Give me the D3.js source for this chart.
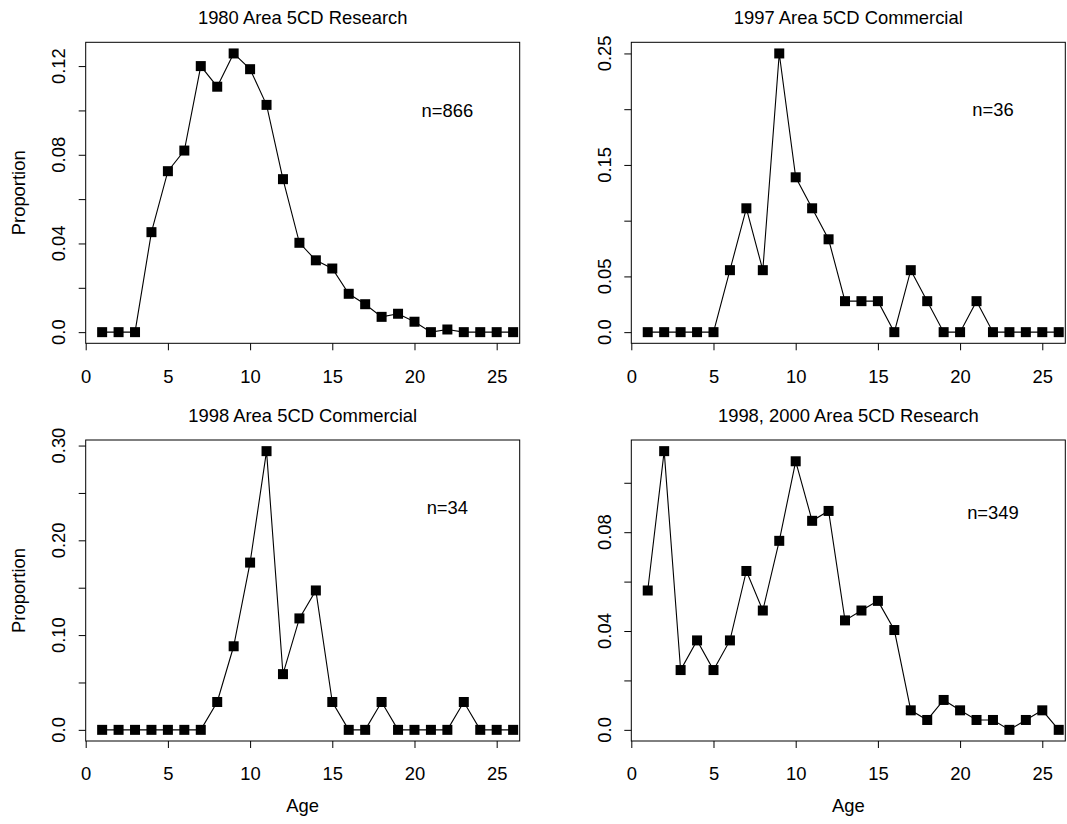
<!DOCTYPE html>
<html lang="en">
<head>
  <meta charset="UTF-8">
  <title>Age composition, Area 5CD</title>
  <script src="https://d3js.org/d3.v7.min.js"></script>
  <style>
    * { margin: 0; padding: 0; box-sizing: border-box; }
    body { background: #fff; }
    svg text { font-family: "Liberation Sans", Arial, sans-serif; font-size: 18.4px; fill: #000; }
  </style>
</head>
<body>
  <div id="chart"></div>

  <script>
    // ages 1..26 on every panel
    const ages = [1, 2, 3, 4, 5, 6, 7, 8, 9, 10, 11, 12, 13, 14, 15, 16, 17, 18, 19, 20, 21, 22, 23, 24, 25, 26];

    const titles = ["1980 Area 5CD Research", "1997 Area 5CD Commercial",
                    "1998 Area 5CD Commercial", "1998, 2000 Area 5CD Research"];
    const sampleSizes = ["n=866", "n=36", "n=34", "n=349"];
    const sampleLabelY = [0.1, 0.2, 0.235, 0.088];

    const research1980 = [0, 0, 0, 0.0451, 0.0726, 0.0819, 0.12, 0.1107, 0.1257, 0.1186, 0.1025, 0.069, 0.0403,
                          0.0324, 0.0287, 0.0173, 0.0126, 0.0069, 0.0083, 0.0047, 0, 0.0012, 0, 0, 0, 0];
    const commercial1997 = [0, 0, 0, 0, 0, 0.0556, 0.1111, 0.0556, 0.25, 0.1389, 0.1111, 0.0833, 0.0278,
                            0.0278, 0.0278, 0, 0.0556, 0.0278, 0, 0, 0.0278, 0, 0, 0, 0, 0];
    const commercial1998 = [0, 0, 0, 0, 0, 0, 0, 0.0294, 0.0882, 0.1765, 0.2941, 0.0588, 0.1176,
                            0.1471, 0.0294, 0, 0, 0.0294, 0, 0, 0, 0, 0.0294, 0, 0, 0];
    const research19982000 = [0.0564, 0.1128, 0.0242, 0.0362, 0.0242, 0.0362, 0.0643, 0.0483, 0.0765, 0.1087, 0.0846, 0.0886, 0.0443,
                              0.0483, 0.0522, 0.0404, 0.0079, 0.004, 0.0121, 0.0079, 0.004, 0.004, 0, 0.004, 0.0079, 0];

    const xTicks = [0, 5, 10, 15, 20, 25];
    const yTicks = [
      [0, 0.02, 0.04, 0.06, 0.08, 0.10, 0.12],
      [0, 0.05, 0.10, 0.15, 0.20, 0.25],
      [0, 0.05, 0.10, 0.15, 0.20, 0.25, 0.30],
      [0, 0.02, 0.04, 0.06, 0.08, 0.10]
    ];
    // R drops the labels that would overlap, so only some ticks are labelled
    const yLabelValues = [
      [0, 0.04, 0.08, 0.12],
      [0, 0.05, 0.15, 0.25],
      [0, 0.10, 0.20, 0.30],
      [0, 0.04, 0.08]
    ];
    const yLabelTexts = [
      ["0.0", "0.04", "0.08", "0.12"],
      ["0.0", "0.05", "0.15", "0.25"],
      ["0.0", "0.10", "0.20", "0.30"],
      ["0.0", "0.04", "0.08"]
    ];

    const series = [research1980, commercial1997, commercial1998, research19982000];

    const W = 1067, H = 824;
    const colLeft = [85.7, 631.3];
    const rowTop = [42.3, 440];
    const boxW = 434, boxH = 301;

    const svg = d3.select("#chart").append("svg")
      .attr("width", W)
      .attr("height", H);

    svg.append("rect").attr("width", W).attr("height", H).attr("fill", "#fff");

    series.forEach((vals, i) => {
      const col = i % 2, row = Math.floor(i / 2);
      const g = svg.append("g")
        .attr("transform", `translate(${colLeft[col]},${rowTop[row]})`);

      const maxV = d3.max(vals);
      const x = d3.scaleLinear().domain([0, 26.4]).range([0, boxW]);
      const y = d3.scaleLinear().domain([-0.04 * maxV, 1.04 * maxV]).range([boxH, 0]);

      // x axis
      const xa = g.append("g")
        .attr("transform", `translate(0,${boxH})`)
        .call(d3.axisBottom(x).tickValues(xTicks).tickSize(7).tickPadding(0).tickFormat(d3.format("d")));
      xa.select(".domain").remove();
      xa.selectAll("line").attr("stroke", "#000");
      xa.selectAll("text")
        .attr("y", 39.4)
        .attr("dy", null)
        .style("font-size", "18.4px");

      // y axis
      const ya = g.append("g")
        .call(d3.axisLeft(y).tickValues(yTicks[i]).tickSize(7).tickFormat(""));
      ya.select(".domain").remove();
      ya.selectAll("line").attr("stroke", "#000");

      g.selectAll(".ylab")
        .data(yLabelValues[i])
        .enter()
        .append("text")
        .attr("class", "ylab")
        .attr("text-anchor", "middle")
        .attr("transform", d => `translate(-20.7,${y(d)}) rotate(-90)`)
        .text((d, k) => yLabelTexts[i][k]);

      // box
      g.append("rect")
        .attr("width", boxW)
        .attr("height", boxH)
        .attr("fill", "none")
        .attr("stroke", "#000")
        .attr("stroke-width", 1);

      // line + square markers
      const line = d3.line()
        .x((d, k) => x(ages[k]))
        .y(d => y(d));

      g.append("path")
        .datum(vals)
        .attr("d", line)
        .attr("fill", "none")
        .attr("stroke", "#000")
        .attr("stroke-width", 1.1);

      const s = 10;
      g.selectAll(".pt")
        .data(vals)
        .enter()
        .append("rect")
        .attr("class", "pt")
        .attr("x", (d, k) => x(ages[k]) - s / 2)
        .attr("y", d => y(d) - s / 2)
        .attr("width", s)
        .attr("height", s)
        .attr("fill", "#000");

      // title
      g.append("text")
        .attr("x", boxW / 2)
        .attr("y", -18)
        .attr("text-anchor", "middle")
        .text(titles[i]);

      // sample size
      g.append("text")
        .attr("x", x(22))
        .attr("y", y(sampleLabelY[i]))
        .attr("dy", "0.35em")
        .attr("text-anchor", "middle")
        .text(sampleSizes[i]);

      if (col === 0) {
        g.append("text")
          .attr("text-anchor", "middle")
          .attr("transform", `translate(${25.2 - colLeft[0]},${boxH / 2}) rotate(-90)`)
          .text("Proportion");
      }
      if (row === 1) {
        g.append("text")
          .attr("x", boxW / 2)
          .attr("y", boxH + 70.5)
          .attr("text-anchor", "middle")
          .text("Age");
      }
    });
  </script>
</body>
</html>
